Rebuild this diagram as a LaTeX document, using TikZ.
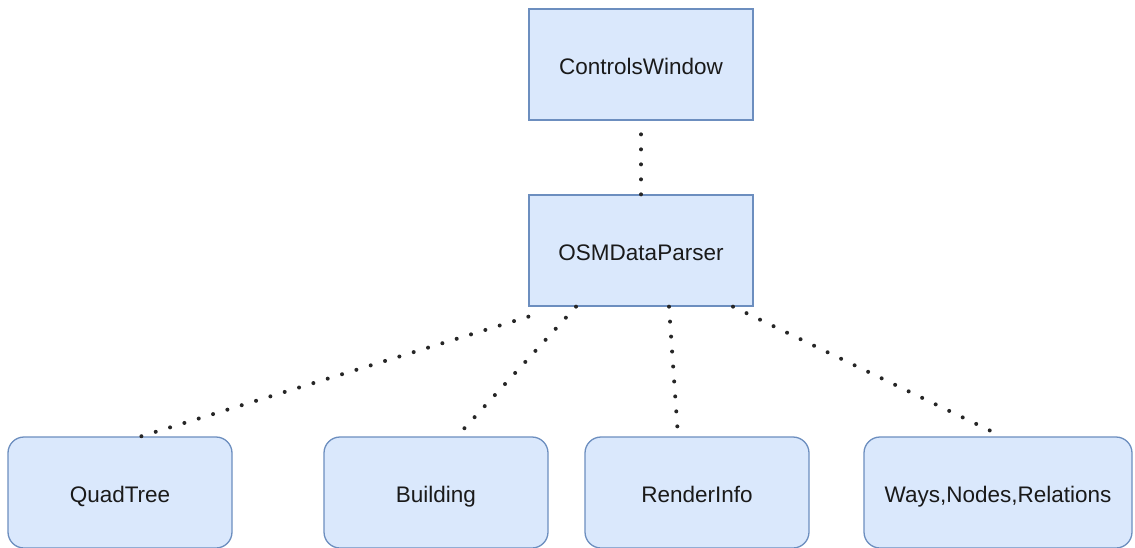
\documentclass[tikz,border=0pt]{standalone}
\usepackage{fontspec}
\setmainfont{Liberation Sans}
\begin{document}
\begin{tikzpicture}[x=1pt,y=-1pt,
  box/.style={draw=boxline, fill=boxfill, line width=1.3pt, minimum width=224pt, minimum height=111pt, inner sep=0pt, text=textcol, text height=22pt, text depth=3pt, font=\fontsize{22.5}{26}\selectfont},
  rbox/.style={box, rounded corners=16pt},
  dotline/.style={draw=black!85, line width=4pt, line cap=round, dash pattern=on 0pt off 15pt}]
\definecolor{boxfill}{HTML}{DAE8FC}
\definecolor{boxline}{HTML}{6C8EBF}
\definecolor{textcol}{HTML}{1A1A1A}
\useasboundingbox (0,0) rectangle (1135,547);
\node[box] (cw) at (641,64.5) {ControlsWindow};
\node[box] (osm) at (641,250.5) {OSMDataParser};
\node[rbox] (qt) at (120,492.5) {QuadTree};
\node[rbox] (bd) at (436,492.5) {Building};
\node[rbox] (ri) at (697,492.5) {RenderInfo};
\node[rbox, minimum width=268pt] (wn) at (998,492.5) {Ways,Nodes,Relations};
\draw[dotline] (osm.north) -- (cw.south);
\draw[dotline] ([yshift=-10pt]osm.south west) -- ([xshift=21pt]qt.north);
\draw[dotline] ([xshift=-65pt]osm.south) -- ([xshift=21pt]bd.north);
\draw[dotline] ([xshift=28pt]osm.south) -- ([xshift=-19pt]ri.north);
\draw[dotline] ([xshift=92pt]osm.south) -- ([xshift=4pt]wn.north);
\end{tikzpicture}
\end{document}
